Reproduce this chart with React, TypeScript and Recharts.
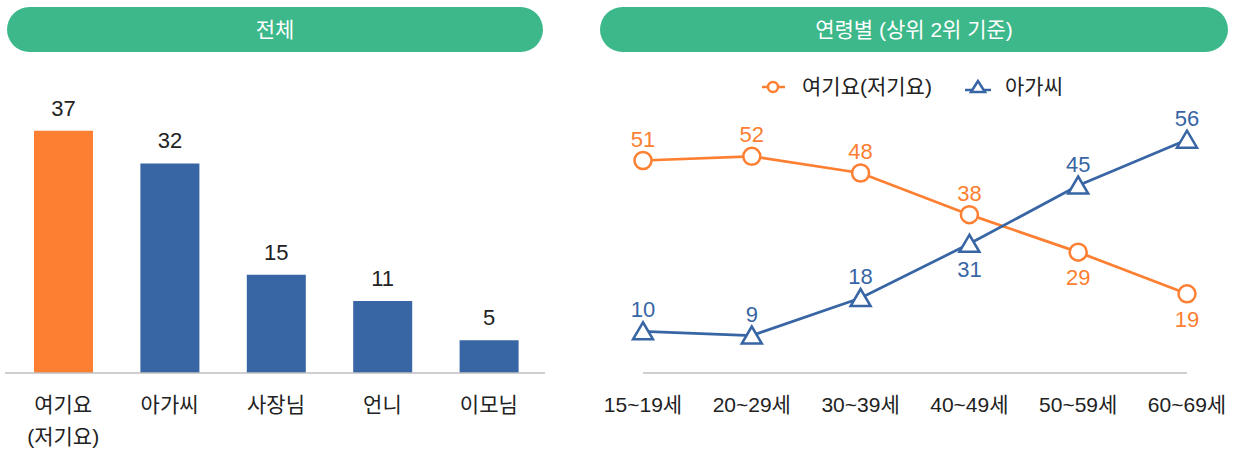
import React from 'react';
import {
  BarChart, Bar, Cell, LabelList,
  LineChart, Line,
  XAxis, YAxis,
} from 'recharts';

// 전체 호칭 선호도
const callNames = ['여기요\n(저기요)', '아가씨', '사장님', '언니', '이모님'];
const totalShares = [37, 32, 15, 11, 5];

// 연령별 (상위 2위 기준)
const ageGroups = ['15~19세', '20~29세', '30~39세', '40~49세', '50~59세', '60~69세'];
const yeogiyoByAge = [51, 52, 48, 38, 29, 19];
const agassiByAge = [10, 9, 18, 31, 45, 56];

const ORANGE = '#fd7f31';
const BLUE = '#3865a4';
const GREEN = '#3db88a';
const FONT = '"Liberation Sans", "Noto Sans CJK KR", sans-serif';

const totalData = callNames.map((name, i) => ({ name, value: totalShares[i] }));
const ageData = ageGroups.map((age, i) => ({
  age,
  yeogiyo: yeogiyoByAge[i],
  agassi: agassiByAge[i],
}));

const Pill = ({ left, width, text }: { left: number; width: number; text: string }) => (
  <div
    style={{
      position: 'absolute', left, top: 7, width, height: 45,
      borderRadius: 23, background: GREEN, color: '#fff',
      fontSize: 21, lineHeight: '45px', textAlign: 'center',
    }}
  >
    {text}
  </div>
);

const MultiLineTick = (props: any) => {
  const { x, y, payload } = props;
  const lines = String(payload.value).split('\n');
  return (
    <g>
      {lines.map((line: string, i: number) => (
        <text key={i} x={x} y={y + 39 + i * 32} textAnchor="middle" fontSize={21} fill="#222" fontFamily={FONT}>
          {line}
        </text>
      ))}
    </g>
  );
};

const makeLabel = (color: string, below: number[]) => (props: any) => {
  const { x, y, value, index } = props;
  const under = below.includes(index);
  return (
    <text x={x} y={under ? y + 33 : y - 14} textAnchor="middle" fontSize={22} fill={color} fontFamily={FONT}>
      {value}
    </text>
  );
};

const CircleDot = (props: any) => (
  <circle key={`o-${props.index}`} cx={props.cx} cy={props.cy} r={8.5} fill="#fff" stroke={ORANGE} strokeWidth={2.5} />
);

const TriangleDot = (props: any) => {
  const { cx, cy } = props;
  return (
    <polygon
      key={`t-${props.index}`}
      points={`${cx},${cy - 9} ${cx - 10},${cy + 8} ${cx + 10},${cy + 8}`}
      fill="#fff" stroke={BLUE} strokeWidth={2.5} strokeLinejoin="miter"
    />
  );
};

export default function App() {
  return (
    <div style={{ position: 'absolute', left: 0, top: 0, width: 1240, height: 450, background: '#fff', fontFamily: FONT }}>
      <Pill left={7} width={536} text="전체" />
      <Pill left={600} width={628} text="연령별 (상위 2위 기준)" />

      <div style={{ position: 'absolute', left: 0, top: 0 }}>
        <BarChart width={550} height={450} data={totalData} margin={{ top: 111, right: 5, left: 5, bottom: 0 }}>
          <XAxis
            dataKey="name" height={77} tickLine={false} tickSize={0} tickMargin={0}
            axisLine={{ stroke: '#bfbfbf', strokeWidth: 1.5 }}
            padding={{ left: 5, right: 3 }} tick={<MultiLineTick />} interval={0}
          />
          <YAxis hide domain={[0, 40]} />
          <Bar dataKey="value" barSize={59} isAnimationActive={false}>
            {totalData.map((_, i) => (
              <Cell key={i} fill={i === 0 ? ORANGE : BLUE} />
            ))}
            <LabelList dataKey="value" position="top" offset={15} fill="#222" fontSize={22} fontFamily={FONT} />
          </Bar>
        </BarChart>
      </div>

      {/* legend */}
      <svg style={{ position: 'absolute', left: 0, top: 0 }} width={1240} height={110}>
        <line x1={762} y1={87} x2={785} y2={87} stroke={ORANGE} strokeWidth={2.5} />
        <circle cx={773} cy={87} r={5} fill="#fff" stroke={ORANGE} strokeWidth={2.5} />
        <text x={802} y={94} fontSize={21} fill="#222" fontFamily={FONT}>여기요(저기요)</text>
        <line x1={965} y1={90} x2={991} y2={90} stroke={BLUE} strokeWidth={2.5} />
        <polygon points="978,81 971,92 985,92" fill="#fff" stroke={BLUE} strokeWidth={2.5} />
        <text x={1005} y={94} fontSize={21} fill="#222" fontFamily={FONT}>아가씨</text>
      </svg>

      <div style={{ position: 'absolute', left: 600, top: 0 }}>
        <LineChart width={640} height={450} data={ageData} margin={{ top: 123, right: 53, left: 43, bottom: 0 }}>
          <XAxis
            dataKey="age" height={77} tickLine={false} tickSize={0} tickMargin={0}
            axisLine={{ stroke: '#bfbfbf', strokeWidth: 1.5 }} interval={0}
            tick={<MultiLineTick />}
          />
          <YAxis hide domain={[0, 60]} />
          <Line
            dataKey="yeogiyo" stroke={ORANGE} strokeWidth={2.75}
            dot={CircleDot} activeDot={false} isAnimationActive={false}
          >
            <LabelList dataKey="yeogiyo" content={makeLabel(ORANGE, [4, 5])} />
          </Line>
          <Line
            dataKey="agassi" stroke={BLUE} strokeWidth={2.75}
            dot={TriangleDot} activeDot={false} isAnimationActive={false}
          >
            <LabelList dataKey="agassi" content={makeLabel(BLUE, [3])} />
          </Line>
        </LineChart>
      </div>
    </div>
  );
}
